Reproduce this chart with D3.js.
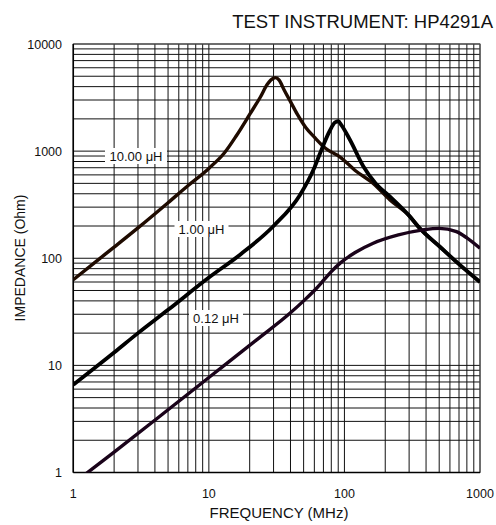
<!DOCTYPE html>
<html>
<head>
<meta charset="utf-8">
<script src="https://cdn.jsdelivr.net/npm/d3@7"></script>
<style>
body { margin: 0; background: #fff; }
text { font-family: "Liberation Sans", Arial, sans-serif; fill: #111; }
</style>
</head>
<body>
<script>
// frequency in MHz, impedance in Ohm
var freq10 = [1, 1.5, 2, 3, 5, 7, 10, 13, 16, 20, 24, 27, 30, 31, 33, 36, 40, 45, 52, 60, 72, 93, 120, 163, 217, 300, 360, 506, 700, 1000];
var imp10  = [63, 95, 127, 192, 330, 475, 690, 960, 1400, 2200, 3200, 4200, 4800, 4850, 4600, 3700, 2900, 2200, 1650, 1350, 1070, 880, 660, 500, 350, 250, 190, 128, 88, 60];

var freq1 = [1, 2, 3, 5, 10, 17, 30, 47, 60, 66, 78, 85, 90, 95, 110, 138, 170, 217, 300, 360, 506, 700, 1000];
var imp1  = [6.6, 13.2, 20, 33, 66, 108, 200, 390, 700, 950, 1550, 1850, 1900, 1750, 1270, 720, 500, 376, 250, 190, 128, 88, 60];

var freq012 = [1, 2, 5, 10, 22.5, 39.6, 50, 60, 70, 80, 93, 120, 163, 250, 381, 500, 670, 800, 1000];
var imp012  = [0.79, 1.55, 3.85, 7.7, 17.3, 30.6, 40, 50, 62, 75, 90, 113, 138, 165, 184, 190, 177, 155, 124];

var seriesNames = ["10.00 \u03bcH", "1.00 \u03bcH", "0.12 \u03bcH"];
var xTicks = [1, 10, 100, 1000];
var yTicks = [1, 10, 100, 1000, 10000];

var W = 496, H = 525;
var pL = 73.3, pR = 480, pT = 44, pB = 472.5;

var svg = d3.select("body").append("svg").attr("width", W).attr("height", H);

var x = d3.scaleLog().domain([1, 1000]).range([pL, pR]);
var y = d3.scaleLog().domain([1, 10000]).range([pB, pT]);

// grid lines, 1..9 per decade
var xGrid = [], yGrid = [];
for (var d = 1; d < 1000; d *= 10) for (var k = 1; k < 10; k++) xGrid.push(d * k);
xGrid.push(1000);
for (var d = 1; d < 10000; d *= 10) for (var k = 1; k < 10; k++) yGrid.push(d * k);
yGrid.push(10000);

var grid = svg.append("g");
grid.selectAll(".vg").data(xGrid).enter().append("line")
    .attr("x1", function(d) { return x(d); }).attr("x2", function(d) { return x(d); })
    .attr("y1", pT).attr("y2", pB)
    .attr("stroke", "#111").attr("stroke-width", 1);
grid.selectAll(".hg").data(yGrid).enter().append("line")
    .attr("y1", function(d) { return y(d); }).attr("y2", function(d) { return y(d); })
    .attr("x1", pL).attr("x2", pR)
    .attr("stroke", "#111").attr("stroke-width", 1);

// frame
svg.append("rect").attr("x", pL).attr("y", pT).attr("width", pR - pL).attr("height", pB - pT)
    .attr("fill", "none").attr("stroke", "#555").attr("stroke-width", 1);
svg.append("line").attr("x1", pL).attr("x2", pL).attr("y1", pT).attr("y2", pB).attr("stroke", "#000").attr("stroke-width", 1.5);
svg.append("line").attr("x1", pL).attr("x2", pR).attr("y1", pB).attr("y2", pB).attr("stroke", "#000").attr("stroke-width", 1.5);

// label boxes hide the grid behind the text
var labels = [
  {name: seriesNames[0], x: 136, y: 156, w: 62},
  {name: seriesNames[1], x: 201.5, y: 229, w: 54},
  {name: seriesNames[2], x: 216, y: 318, w: 54}
];
labels.forEach(function(l) {
  svg.append("rect").attr("x", l.x - l.w / 2).attr("y", l.y - 8).attr("width", l.w).attr("height", 16).attr("fill", "#fff");
  svg.append("text").attr("x", l.x).attr("y", l.y + 5).attr("text-anchor", "middle")
      .style("font-size", "13px").text(l.name);
});

// curves
svg.append("clipPath").attr("id", "clip").append("rect")
    .attr("x", pL).attr("y", pT).attr("width", pR - pL).attr("height", pB - pT);

var line = d3.line()
    .x(function(d) { return x(d[0]); })
    .y(function(d) { return y(d[1]); })
    .curve(d3.curveMonotoneX);

var curves = [
  {f: freq10, z: imp10, color: "#1f0b00", w: 3.4},
  {f: freq1, z: imp1, color: "#000", w: 3.8},
  {f: freq012, z: imp012, color: "#1a031a", w: 3.4}
];
var cg = svg.append("g").attr("clip-path", "url(#clip)");
curves.forEach(function(c) {
  cg.append("path")
      .datum(d3.zip(c.f, c.z))
      .attr("d", line)
      .attr("fill", "none")
      .attr("stroke", c.color)
      .attr("stroke-width", c.w)
      .attr("stroke-linejoin", "round");
});

// tick labels
svg.selectAll(".xt").data(xTicks).enter().append("text")
    .attr("x", function(d) { return x(d); }).attr("y", 498)
    .attr("text-anchor", "middle").style("font-size", "12.5px")
    .text(function(d) { return d; });
svg.selectAll(".yt").data(yTicks).enter().append("text")
    .attr("x", 62).attr("y", function(d) { return y(d) + 4.5; })
    .attr("text-anchor", "end").style("font-size", "12.5px")
    .text(function(d) { return d; });

// titles
svg.append("text").attr("x", 279).attr("y", 518).attr("text-anchor", "middle")
    .style("font-size", "15px").text("FREQUENCY (MHz)");
svg.append("text").attr("text-anchor", "middle")
    .attr("transform", "translate(25,258)rotate(-90)")
    .style("font-size", "14px").text("IMPEDANCE (Ohm)");
svg.append("text").attr("x", 493).attr("y", 28).attr("text-anchor", "end")
    .style("font-size", "18.5px").text("TEST INSTRUMENT: HP4291A");
</script>
</body>
</html>
